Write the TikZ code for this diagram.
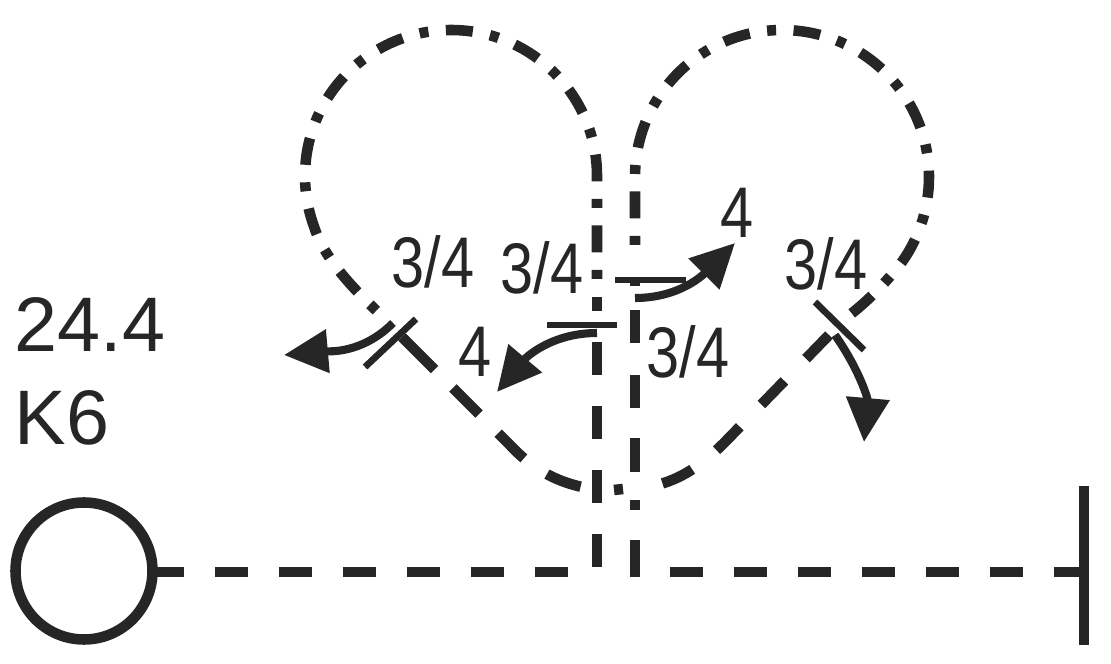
\documentclass[tikz,border=0pt]{standalone}
\usepackage{fontspec}
\setmainfont{Liberation Sans}
\usetikzlibrary{arrows.meta}
\definecolor{inkgray}{HTML}{262626}
\tikzset{
  dashline/.style={inkgray, line width=3pt, dash pattern=on 0.33cm off 0.31cm},
  dotline/.style={inkgray, line width=3pt, dash pattern=on 0.09cm off 0.175cm on 0.27cm off 0.175cm},
  tickline/.style={inkgray, line width=1.9pt},
  swing/.style={inkgray, line width=2.3pt, arrows={-Triangle[length=0.44cm, width=0.42cm]}},
  bigtext/.style={inkgray, inner sep=0pt, font=\fontsize{22}{24}\selectfont},
  ratio/.style={inkgray, inner sep=0pt, xscale=0.83, font=\fontsize{20.4}{24}\selectfont}
}
\begin{document}
\begin{tikzpicture}
    \useasboundingbox (0,0) rectangle (11.11,6.64);

    % support and end bar
    \node[circle, draw=inkgray, line width=3pt, minimum size=1.37cm, inner sep=0pt, outer sep=0.05cm] (hinge) at (0.84,0.93) {};
    \coordinate (bartop) at (10.84,1.78);
    \coordinate (barbot) at (10.84,0.19);
    \coordinate (barmid) at (10.84,0.92);
    \coordinate (basel) at (5.70,0.92);
    \coordinate (baser) at (6.70,0.92);
    \coordinate (basestart) at (1.51,0.92);
    \draw[inkgray, line width=2.8pt] (barbot) -- (bartop);
    \draw[dashline] (basestart) -- (basel);
    \draw[dashline] (baser) -- (barmid);

    % left loop
    \coordinate (leftfoot) at (5.97,0.97);
    \coordinate (leftneck) at (5.97,3.67);
    \draw[dashline] (leftfoot) -- (leftneck);
    \draw[dotline] (5.97,3.85) -- (5.97,4.88) arc[start angle=0, end angle=200, radius=1.46]
        .. controls (3.25,4.02) and (3.60,3.69) .. (3.83,3.47);
    \draw[inkgray, line width=3pt, dash pattern=on 0.46cm off 0.26cm on 0.37cm off 0.27cm on 0.36cm off 0.28cm on 0.36cm]
        (4.02,3.27) -- (5.10,2.19) .. controls (5.35,1.92) and (5.60,1.82) .. (5.82,1.77);
    \draw[inkgray, line width=3pt] (6.14,1.74) -- (6.23,1.75);

    % right loop
    \draw[inkgray, line width=3pt, dash pattern=on 0.37cm off 0.30cm on 0.10cm off 0.28cm on 0.34cm off 0.30cm on 0.33cm off 0.32cm on 0.33cm off 0.24cm on 0.09cm]
        (6.35,0.87) -- (6.35,3.87);
    \draw[dotline] (6.35,4.19) -- (6.35,4.87) arc[start angle=180, end angle=-35, radius=1.47]
        .. controls (8.85,3.80) and (8.65,3.60) .. (8.43,3.44);
    \draw[dashline] (8.29,3.29) -- (7.25,2.22) .. controls (7.00,1.97) and (6.80,1.85) .. (6.57,1.79);

    % cross marks
    \draw[tickline] (3.65,2.97) -- (4.16,3.45);
    \draw[tickline] (8.15,3.62) -- (8.64,3.14);
    \draw[tickline] (5.47,3.39) -- (6.17,3.39);
    \draw[tickline] (6.15,3.84) -- (6.86,3.84);

    % rotation arrows
    \coordinate (swingaa) at (3.93,3.41);
    \coordinate (swingab) at (2.84,3.09);
    \coordinate (swingba) at (5.97,3.31);
    \coordinate (swingbb) at (4.97,2.72);
    \coordinate (swingca) at (6.35,3.66);
    \coordinate (swingcb) at (7.35,4.21);
    \coordinate (swingda) at (8.35,3.29);
    \coordinate (swingdb) at (8.64,2.22);
    \draw[swing] (swingaa) to[out=225, in=5] (swingab);
    \draw[swing] (swingba) to[out=180, in=50] (swingbb);
    \draw[swing] (swingca) to[out=0, in=225] (swingcb);
    \draw[swing] (swingda) to[out=-55, in=85] (swingdb);

    % labels
    \node[bigtext] (force) at (0.90,3.39) {24.4};
    \node[bigtext] (grade) at (0.62,2.46) {K6};
    \node[ratio] (ratioa) at (4.33,4.02) {3/4};
    \node[ratio] (ratiob) at (5.42,3.96) {3/4};
    \node[ratio] (ratioc) at (8.26,4.00) {3/4};
    \node[ratio] (ratiod) at (6.88,3.12) {3/4};
    \node[ratio] (foura) at (7.37,4.51) {4};
    \node[ratio] (fourb) at (4.75,3.12) {4};
\end{tikzpicture}
\end{document}
